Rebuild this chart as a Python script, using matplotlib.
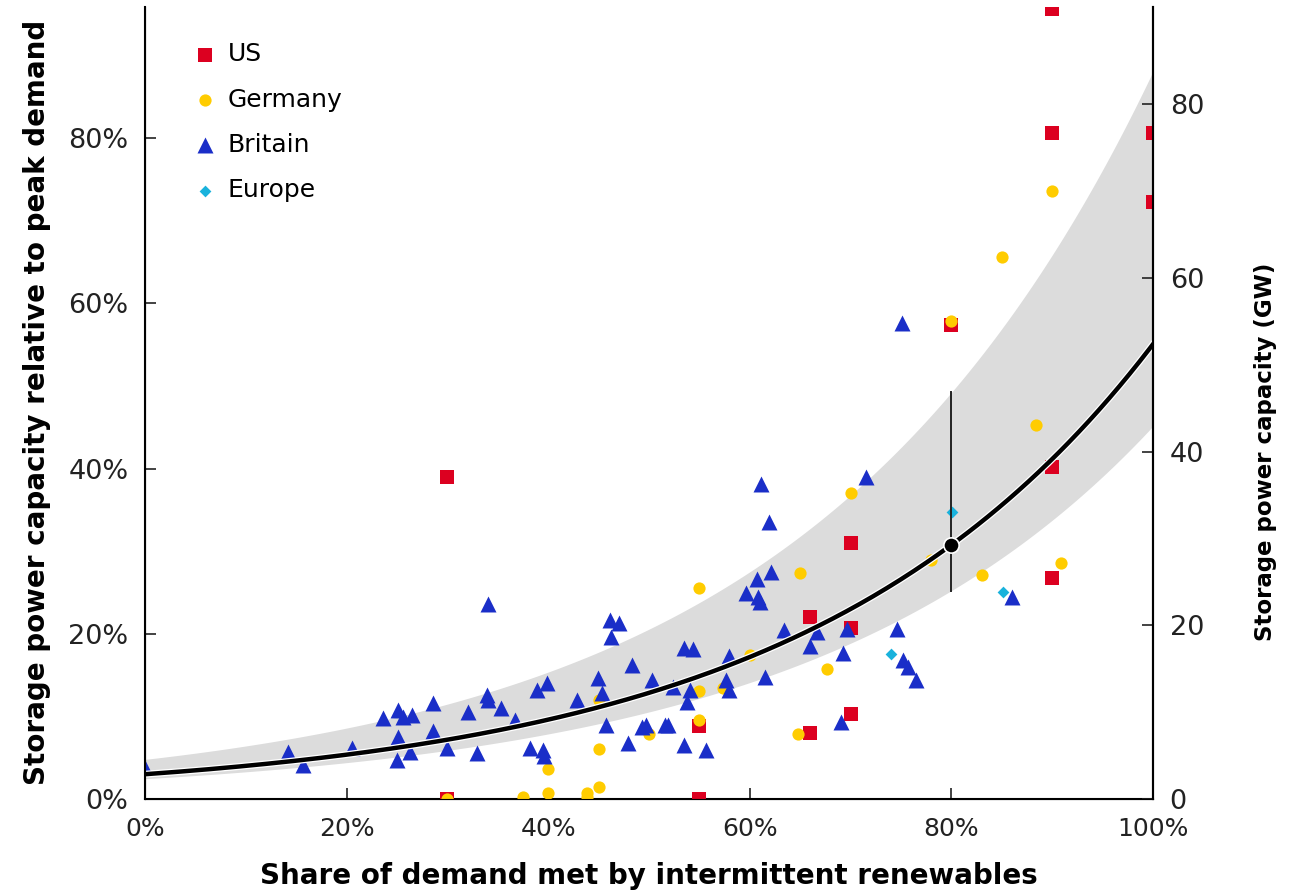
import matplotlib
matplotlib.use("Agg")
import matplotlib.pyplot as plt
import matplotlib.patheffects as pe
import numpy as np

# ---------------- data ----------------
us_x = [90, 90, 100, 100, 80, 90, 30, 70, 66, 70, 90, 70, 66, 55, 30, 55]
us_y = [95.7, 80.6, 80.6, 72.3, 57.4, 40.2, 39.0, 31.0, 22.0, 20.7, 26.7, 10.3, 8.0, 8.8, 0.0, 0.0]

de_x = [90, 85, 80, 88.4, 70, 90.9, 65, 83, 55, 67.7, 60, 55, 55, 50, 64.8, 45, 45,
        57.3, 78, 40, 40, 37.5, 43.8, 45, 30, 43.8]
de_y = [73.6, 65.6, 57.9, 45.3, 37.0, 28.6, 27.4, 27.1, 25.5, 15.7, 17.4, 13.1, 9.6, 7.9,
        7.9, 6.0, 12.0, 13.4, 29.0, 3.6, 0.7, 0.2, 0.7, 1.5, 0.0, 0.3]

gb_x = [75.1, 71.5, 61.1, 61.9, 34.0, 86.0, 74.6, 75.2, 75.7, 76.5, 69.0, 69.2, 69.6,
        63.4, 62.1, 60.7, 59.6, 60.8, 61.0, 66.0, 61.5, 57.9, 57.6, 57.9, 53.5, 54.4,
        50.3, 48.3, 46.1, 47.0, 46.2, 44.9, 45.3, 39.9, 38.9, 42.9, 53.8, 45.7, 49.3,
        49.7, 51.6, 51.9, 47.9, 53.5, 55.7, 38.2, 39.5, 39.6, 25.1, 23.6, 26.5, 25.6,
        28.6, 28.6, 25.1, 25.0, 32.0, 33.9, 34.0, 35.3, 32.9, 36.7, 14.2, 20.5, 15.7,
        26.3, 30.0, 0.0, 66.7, 52.4, 54.1]
gb_y = [57.6, 39.0, 38.2, 33.5, 23.6, 24.4, 20.6, 16.8, 16.0, 14.4, 9.3, 17.7, 20.6,
        20.5, 27.5, 26.6, 24.9, 24.4, 23.8, 18.5, 14.8, 17.3, 14.4, 13.2, 18.3, 18.2,
        14.4, 16.2, 21.7, 21.3, 19.6, 14.6, 12.8, 14.0, 13.2, 12.0, 11.7, 9.0, 8.7,
        9.0, 9.0, 9.0, 6.8, 6.5, 5.9, 6.2, 5.9, 5.2, 10.8, 9.8, 10.2, 9.9,
        11.6, 8.2, 7.5, 4.7, 10.5, 12.6, 12.0, 11.0, 5.6, 9.6, 5.7, 6.2, 4.1,
        5.7, 6.2, 3.8, 20.2, 13.6, 13.2]

eu_x = [80.1, 85.1, 74.0]
eu_y = [34.7, 25.1, 17.5]

# fitted trend (exponential) and uncertainty band factors
fit_a, fit_b = 3.0, 0.0291
band_lo, band_hi = 0.82, 1.60
highlight_x = 80

x_ticks = [0, 20, 40, 60, 80, 100]
y_ticks = [0, 20, 40, 60, 80]
gw_ticks = [0, 20, 40, 60, 80]
gw_per_100pct = 95.1
y_max = 95.9

# ---------------- figure ----------------
fig = plt.figure(figsize=(12.96, 8.90), dpi=100)
ax = fig.add_axes([145/1296, 1-799/890, (1153-145)/1296, (799-7)/890])

xs = np.linspace(0, 100, 300)
center = fit_a*np.exp(fit_b*xs)
ax.fill_between(xs, center*band_lo, center*band_hi, color='#dcdcdc', lw=0, zorder=1)

ax.scatter(us_x, us_y, marker='s', s=10.0**2, color='#dc0020', lw=0, zorder=3, label='US')
ax.scatter(de_x, de_y, marker='o', s=8.8**2, color='#ffcc00', lw=0, zorder=4, label='Germany')
ax.scatter(gb_x, gb_y, marker='^', s=11.5**2, color='#1a2ec8', lw=0, zorder=5, label='Britain')
ax.scatter(eu_x, eu_y, marker='D', s=6.0**2, color='#19b2dc', lw=0, zorder=6, label='Europe')

ax.plot(xs, center, color='black', lw=3.2, zorder=7,
        path_effects=[pe.Stroke(linewidth=5, foreground='white'), pe.Normal()])
hc = fit_a*np.exp(fit_b*highlight_x)
ax.plot([highlight_x, highlight_x], [hc*band_lo, hc*band_hi], color='#222222', lw=1.4, zorder=6.5)
ax.plot([highlight_x], [hc], marker='o', ms=11, color='black', mec='white', mew=1.2, zorder=8)

ax.set_xlim(0, 100)
ax.set_ylim(0, y_max)
ax.set_xticks(x_ticks)
ax.set_xticklabels([f"{t}%" for t in x_ticks])
ax.set_yticks(y_ticks)
ax.set_yticklabels([f"{t}%" for t in y_ticks])
ax.spines['top'].set_visible(False)
for s in ['left', 'bottom', 'right']:
    ax.spines[s].set_linewidth(1.5)
ax.tick_params(axis='both', direction='in', length=8, width=1.2, colors='#222222')
ax.tick_params(axis='x', pad=13, labelsize=18)
ax.tick_params(axis='y', pad=12, labelsize=19.5)

ax.set_xlabel('Share of demand met by intermittent renewables', fontsize=20, fontweight='bold')
ax.xaxis.set_label_coords(0.5, -(876-799)/792)
ax.xaxis.label.set_va('center')
ax.set_ylabel('Storage power capacity relative to peak demand', fontsize=20, fontweight='bold')
ax.yaxis.set_label_coords(-(145-37)/1008, (799-402)/792)
ax.yaxis.label.set_va('center')

ax2 = ax.twinx()
ax2.set_ylim(0, y_max/100*gw_per_100pct)
ax2.set_yticks(gw_ticks)
ax2.spines['top'].set_visible(False)
ax2.spines['right'].set_linewidth(1.5)
ax2.tick_params(axis='y', direction='in', length=8, width=1.2, labelsize=19.5, pad=12, colors='#222222')
ax2.set_ylabel('Storage power capacity (GW)', fontsize=16.5, fontweight='bold')
ax2.yaxis.set_label_coords((1266-145)/1008, (799-452)/792)
ax2.yaxis.label.set_va('center')

leg = ax.legend(loc='upper left', bbox_to_anchor=(0.035, 0.968), frameon=False, fontsize=18,
                handletextpad=0.3, labelspacing=0.85, borderaxespad=0, handlelength=1.2)

fig.savefig('out.png', dpi=100)
